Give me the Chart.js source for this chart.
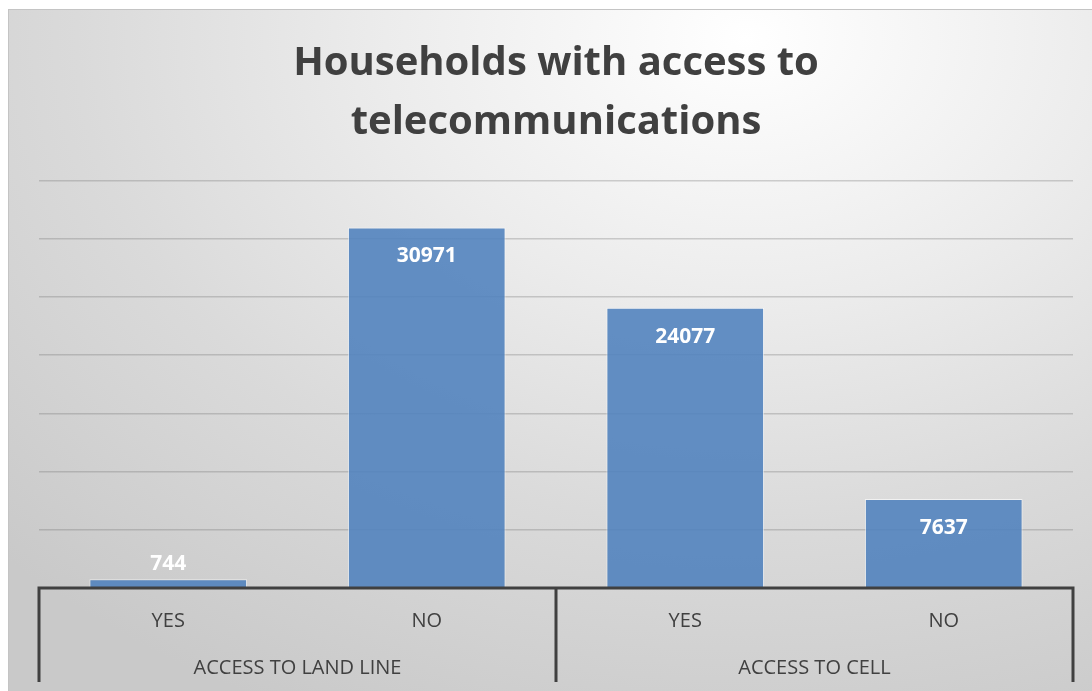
<!DOCTYPE html>
<html>
<head>
<meta charset="utf-8">
<title>Households with access to telecommunications</title>
<script src="https://cdn.jsdelivr.net/npm/chart.js@4/dist/chart.umd.min.js"></script>
<style>
  html, body { margin: 0; padding: 0; background: #fff; }
  #frame {
    position: absolute;
    left: 8px;
    top: 9px;
    width: 1084px;
    height: 682px;
    border-top: 1px solid #c4c4c4;
    border-left: 1px solid #c4c4c4;
    background: radial-gradient(ellipse 95% 110% at 68% 4%, #ffffff 0%, #ececec 35%, #dadada 65%, #c9c9c9 100%);
  }
  #chart { display: block; }
</style>
</head>
<body>
<div id="frame"><canvas id="chart" width="1084" height="682"></canvas></div>
<script>
var categories = ["YES", "NO", "YES", "NO"];
var groups = ["ACCESS TO LAND LINE", "ACCESS TO CELL"];
var households = [744, 30971, 24077, 7637];
var yMax = 35000;
var yStep = 5000;

var FONT = '"Open Sans", "DejaVu Sans", sans-serif';
var AXIS_COLOR = "#404040";

// value labels: inside the top of tall bars, above short ones
var valueLabels = {
  id: "valueLabels",
  afterDatasetsDraw: function (chart) {
    var ctx = chart.ctx;
    var meta = chart.getDatasetMeta(0);
    ctx.save();
    ctx.font = "bold 21px " + FONT;
    ctx.fillStyle = "#ffffff";
    ctx.textAlign = "center";
    ctx.textBaseline = "middle";
    meta.data.forEach(function (bar, i) {
      var h = bar.base - bar.y;
      var y = h > 45 ? bar.y + 29 : bar.y - 15;
      ctx.fillText(String(households[i]), bar.x, y);
    });
    ctx.restore();
  }
};

// two-level category axis with divider lines
var groupAxis = {
  id: "groupAxis",
  afterDraw: function (chart) {
    var ctx = chart.ctx;
    var area = chart.chartArea;
    var x = chart.scales.x;
    var bottom = area.bottom;
    var mid = (x.getPixelForValue(1) + x.getPixelForValue(2)) / 2;
    var lineEnd = bottom + 94;

    ctx.save();
    ctx.strokeStyle = AXIS_COLOR;
    ctx.lineWidth = 3;
    ctx.beginPath();
    ctx.moveTo(area.left - 1.5, bottom);
    ctx.lineTo(area.right + 1.5, bottom);
    [area.left, mid, area.right].forEach(function (px) {
      ctx.moveTo(px, bottom);
      ctx.lineTo(px, lineEnd);
    });
    ctx.stroke();

    ctx.fillStyle = AXIS_COLOR;
    ctx.font = "20px " + FONT;
    ctx.textAlign = "center";
    ctx.textBaseline = "middle";
    categories.forEach(function (c, i) {
      ctx.fillText(c, x.getPixelForValue(i), bottom + 33);
    });
    ctx.fillText(groups[0], (area.left + mid) / 2, bottom + 80);
    ctx.fillText(groups[1], (mid + area.right) / 2, bottom + 80);
    ctx.restore();
  }
};

new Chart(document.getElementById("chart").getContext("2d"), {
  type: "bar",
  data: {
    labels: categories,
    datasets: [
      {
        label: "Households",
        data: households,
        backgroundColor: "rgba(79,129,189,0.88)",
        borderColor: "rgba(255,255,255,0.6)",
        borderWidth: 1,
        categoryPercentage: 1,
        barPercentage: 0.61
      }
    ]
  },
  options: {
    responsive: false,
    animation: false,
    layout: { padding: { left: 30, right: 20, top: 0, bottom: 104 } },
    scales: {
      x: {
        display: false
      },
      y: {
        min: 0,
        max: yMax,
        ticks: { display: false, stepSize: yStep },
        border: { display: false },
        grid: { color: "rgba(110,110,110,0.3)", lineWidth: 1.5, drawTicks: false },
        afterFit: function (s) { s.width = 0; }
      }
    },
    plugins: {
      legend: { display: false },
      tooltip: { enabled: false },
      title: {
        display: true,
        text: ["Households with access to", "telecommunications"],
        color: AXIS_COLOR,
        font: { family: FONT, size: 40, weight: "bold", lineHeight: 1.47 },
        padding: { top: 24, bottom: 29 }
      }
    }
  },
  plugins: [valueLabels, groupAxis]
});
</script>
</body>
</html>
